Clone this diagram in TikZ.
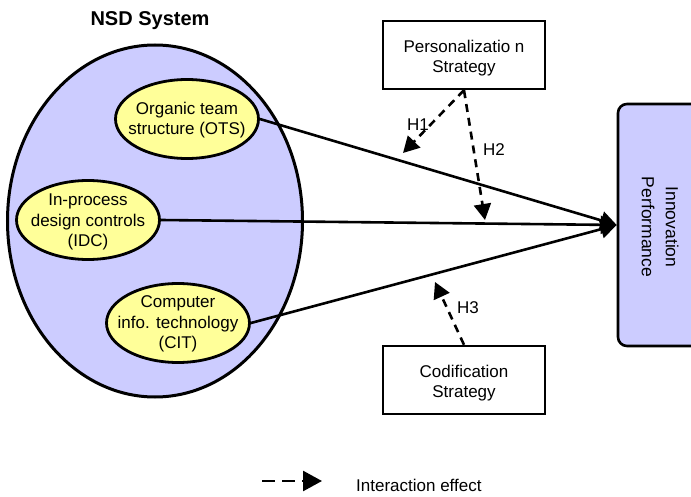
\documentclass[tikz,border=0pt]{standalone}
\usepackage{fontspec}
\setmainfont{Liberation Sans}
\usetikzlibrary{shapes.geometric,arrows.meta}
\definecolor{lav}{HTML}{CCCCFF}
\definecolor{yel}{HTML}{FFFF99}
\tikzset{
  bigell/.style={ellipse, draw, line width=3pt, fill=lav, minimum width=295pt, minimum height=352pt, inner sep=0pt},
  yelell/.style={ellipse, draw, line width=2.8pt, fill=yel, minimum width=143pt, minimum height=79pt, inner sep=0pt},
  txt/.style={align=center, font=\fontsize{17}{20.5}\selectfont, inner sep=0pt},
  strat/.style={draw, line width=2.4pt, minimum width=162pt, minimum height=68pt, inner sep=0pt},
  perfbox/.style={draw, line width=2.6pt, fill=lav, rounded corners=9pt, minimum width=84pt, minimum height=242pt, inner sep=0pt},
  mainarr/.style={line width=2.6pt, -{Triangle[length=16pt,width=18pt]}},
  intarr/.style={line width=2.6pt, dash pattern=on 8pt off 6pt, -{Triangle[length=16pt,width=17pt]}},
  legarr/.style={line width=2.6pt, dash pattern=on 13pt off 7pt, -{Triangle[length=19pt,width=20pt]}},
  hlab/.style={font=\fontsize{17}{20}\selectfont, inner sep=0pt}
}
\begin{document}
\begin{tikzpicture}[x=1pt,y=-1pt]
\useasboundingbox (0,0) rectangle (691,497);
% title
\node[font=\fontsize{20}{24}\selectfont\bfseries, inner sep=0pt] (title) at (150,21) {NSD System};
% NSD ellipse
\node[bigell] (nsd) at (155,221) {};
\node[yelell] (ots) at (187,119) {};
\node[txt] (otst) at (187,120) {Organic team\\structure (OTS)};
\node[yelell] (idc) at (88,220) {};
\node[txt] (idct) at (88,222) {In-process\\design controls\\(IDC)};
\node[yelell] (cit) at (178,323) {};
\node[txt] (citt) at (178,324) {Computer\\info. technology\\(CIT)};
% performance box
\node[perfbox] (perf) at (660,225) {};
\node[txt, rotate=-90, font=\fontsize{17.5}{24}\selectfont] (perft) at (660,227) {Innovation\\Performance};
% strategy boxes
\node[strat] (pers) at (464,55) {};
\node[txt] (perst) at (464,58) {Personalizatio n\\Strategy};
\node[strat] (cod) at (464,380) {};
\node[txt] (codt) at (464,383) {Codification\\Strategy};
% main arrows
\draw[mainarr] (ots.east) -- (perf.west);
\draw[mainarr] (idc.east) -- (perf.west);
\draw[mainarr] (cit.east) -- (perf.west);
% interaction arrows
\coordinate (h1end) at (403,153);
\coordinate (h2end) at (485,220);
\coordinate (h3end) at (435,282);
\draw[intarr] (pers.south) -- (h1end);
\draw[intarr] (pers.south) -- (h2end);
\draw[intarr] (cod.north) -- (h3end);
\node[hlab] (h1) at (418,125) {H1};
\node[hlab] (h2) at (494,150) {H2};
\node[hlab] (h3) at (468,308) {H3};
% legend
\coordinate (lga) at (262,481);
\coordinate (lgb) at (322,481);
\draw[legarr] (lga) -- (lgb);
\node[txt, anchor=west] (lgt) at (356,485) {Interaction effect};
\end{tikzpicture}
\end{document}
